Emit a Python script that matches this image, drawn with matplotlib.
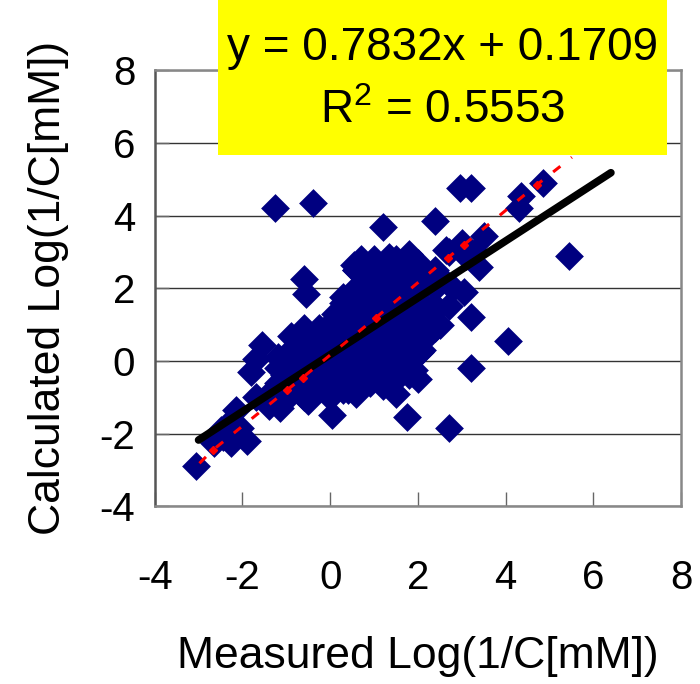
import matplotlib.pyplot as plt
from matplotlib.patches import Rectangle

plt.rcParams['font.family'] = ['Liberation Sans', 'DejaVu Sans']
plt.rcParams['mathtext.fontset'] = 'custom'
plt.rcParams['mathtext.rm'] = 'Liberation Sans'
plt.rcParams['axes.unicode_minus'] = False

# measured vs calculated
meas = [-3.05, -2.65, -2.45, -2.25, -2.05, -1.9, -2.15, -2.3, -2.5,
        -1.55, -1.7, -1.8, -1.4, -1.15, -1.7, -1.3,
        -1.25, -0.4, -0.6, -0.55,
        1.2, 2.4, 2.95, 3.2, 4.35, 4.3, 4.85, 5.45,
        3.5, 3.0, 2.7, 3.4, 3.05, 3.2, 4.05, 3.2,
        1.75, 2.7, 0.05, 2.3, 1.9, 1.9, 2.25,
        -0.5, -0.4, -0.85, -1.05, 1.5, 1.3, 2.0,
        2.2, 2.5, 2.8, 2.7, 2.5, 3.1, 3.3,
        0.55, 0.6, 1.0, 1.35, 1.8, 2.65, 0.9, 1.6, 2.0,
        0.1, 0.3, -0.1, 0.2, -0.25, 2.35, 2.05, 1.3, 0.75, 0.4, 0.7]
calc = [-2.9, -2.25, -2.1, -2.25, -1.85, -2.2, -1.35, -1.7, -1.9,
        0.45, 0.05, -0.3, -1.25, -1.3, -1.0, -0.8,
        4.2, 4.35, 2.25, 1.85,
        3.7, 3.85, 4.75, 4.75, 4.55, 4.2, 4.9, 2.9,
        3.45, 3.25, 3.0, 2.6, 1.9, 1.2, 0.55, -0.2,
        -1.55, -1.85, -1.5, 0.8, 0.4, -0.25, 1.3,
        -1.1, -0.9, -0.75, -0.4, -0.9, -0.6, -0.5,
        2.4, 2.3, 2.0, 1.5, 1.0, 2.9, 3.0,
        2.65, 2.5, 2.8, 2.85, 2.95, 3.05, 2.4, 2.6, 2.7,
        1.3, 1.75, 0.9, 1.2, 0.9, 1.35, 0.25, 0.05, -0.5, -0.8, 2.8]

# dense core of the cloud, column by column
core_x = [-1.2, -0.9, -0.6, -0.3, 0.0, 0.3, 0.6, 0.9, 1.2, 1.5, 1.8, 2.1, 2.4]
core_y = [
    [-0.6, -0.2, 0.1],
    [-0.9, -0.5, -0.1, 0.3, 0.7],
    [-1.0, -0.6, -0.2, 0.2, 0.6, 0.9],
    [-0.8, -0.4, 0.0, 0.4, 0.8],
    [-1.0, -0.6, -0.2, 0.2, 0.6, 1.0],
    [-0.8, -0.4, 0.0, 0.4, 0.8, 1.2, 1.6],
    [-0.9, -0.5, -0.1, 0.3, 0.7, 1.1, 1.5, 2.0, 2.5],
    [-0.6, -0.2, 0.2, 0.6, 1.0, 1.4, 1.8, 2.2, 2.6],
    [-0.7, -0.3, 0.1, 0.5, 0.9, 1.3, 1.7, 2.1, 2.5],
    [-0.5, 0.0, 0.4, 0.8, 1.2, 1.6, 2.0, 2.4, 2.8],
    [-0.4, 0.1, 0.5, 0.9, 1.3, 1.7, 2.1, 2.6],
    [0.3, 0.8, 1.2, 1.6, 2.0, 2.4],
    [0.9, 1.5, 2.0, 2.5],
]
for cx, ys in zip(core_x, core_y):
    for cy in ys:
        meas.append(cx)
        calc.append(cy)

# red reference series
red_x = [-2.98, -2.68, -0.99, -0.63, 1.04, 2.68, 3.05, 4.71, 5.51]
red_y = [-2.82, -2.46, -0.81, -0.46, 1.19, 2.84, 3.2, 4.85, 5.61]

slope = 0.7832
icpt = 0.1709
fit_x = [-3.0, 6.4]
fit_y = [slope * v + icpt for v in fit_x]

fig = plt.figure(figsize=(7, 6.84), dpi=100)
ax = fig.add_axes([0.221, 0.260, 0.752, 0.637])

ax.scatter(meas, calc, marker='D', s=215, color='#000080', linewidths=0, zorder=3)
ax.plot(fit_x, fit_y, color='black', lw=5.5, solid_capstyle='round', zorder=4)
ax.plot(red_x, red_y, color='red', lw=2.2, dashes=(3, 4.5), marker='D', ms=4,
        markevery=[1, 2, 3, 4, 5, 6, 7], zorder=5)

ax.set_xlim(-4, 8)
ax.set_ylim(-4, 8)
ax.set_xticks(range(-4, 9, 2))
ax.set_yticks(range(-4, 9, 2))
ax.yaxis.grid(True, color='#333333', lw=1)
ax.set_axisbelow(True)

for side in ['top', 'right', 'bottom']:
    ax.spines[side].set_color('#888888')
    ax.spines[side].set_linewidth(1.8)
ax.spines['left'].set_color('#555555')
ax.spines['left'].set_linewidth(1.8)

ax.tick_params(axis='x', direction='in', length=10, width=1, color='#666666',
               labelsize=29, pad=38)
ax.tick_params(axis='y', direction='in', length=10, width=1, color='#666666',
               labelsize=29, pad=14)

ax.set_xlabel('Measured Log(1/C[mM])', fontsize=32, labelpad=28)
ax.set_ylabel('Calculated Log(1/C[mM])', fontsize=32, labelpad=22)

# yellow equation box
fig.patches.append(Rectangle((0.311, 0.773), 0.642, 0.227, transform=fig.transFigure,
                             facecolor='yellow', edgecolor='none', zorder=10))
fig.text(0.632, 0.930, 'y = 0.7832x + 0.1709', fontsize=33, ha='center', va='center', zorder=11)
fig.text(0.632, 0.838, r'R$^{2}$ = 0.5553', fontsize=33, ha='center', va='center', zorder=11)

fig.savefig('out.png', dpi=100)
